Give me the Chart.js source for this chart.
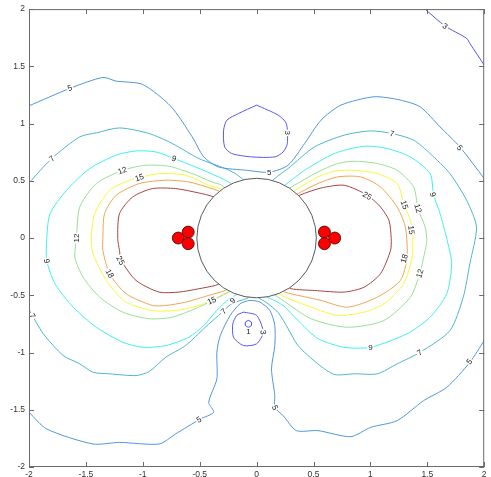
<!DOCTYPE html>
<html>
<head>
<meta charset="utf-8">
<title>Contour plot</title>
<script src="https://cdn.jsdelivr.net/npm/chart.js@4/dist/chart.umd.min.js"></script>
<style>
  html, body { margin: 0; padding: 0; background: #fff; }
  canvas { display: block; }
</style>
</head>
<body>
<canvas id="chart" width="491" height="477"></canvas>
<script>
'use strict';

// tick labels on both axes
const xTicks = [-2, -1.5, -1, -0.5, 0, 0.5, 1, 1.5, 2];
const yTicks = [-2, -1.5, -1, -0.5, 0, 0.5, 1, 1.5, 2];

// contour lines, [x, y]
const c1 = [[-0.072,-0.719],[-0.046,-0.734],[-0.046,-0.764],[-0.072,-0.779],[-0.098,-0.764],[-0.098,-0.734],[-0.072,-0.719]];

const c3Top = [[0,1.161],[0.189,1.074],[0.261,1.001],[0.270,0.826],[0.233,0.752],[0.160,0.709],[-0.044,0.709],[-0.218,0.738],[-0.281,0.796],[-0.290,0.942],[-0.261,1.030],[-0.159,1.088],[0,1.161]];
const c3Corner = [[1.48,2.0],[1.656,1.852],[1.845,1.745],[1.874,1.700],[2.0,1.511]];
const c3Bottom = [[-0.116,-0.647],[0,-0.676],[0.058,-0.822],[0,-0.924],[-0.116,-0.939],[-0.203,-0.866],[-0.209,-0.749],[-0.174,-0.676],[-0.116,-0.647]];

const c5Top = [[-2.0,1.155],[-1.641,1.307],[-1.351,1.403],[-1.234,1.371],[-1.002,1.342],[-0.755,1.152],[-0.566,0.884],[-0.464,0.709],[-0.334,0.621],[-0.087,0.592],[0.111,0.575],[0.276,0.636],[0.422,0.826],[0.566,1.030],[0.741,1.161],[1.032,1.234],[1.264,1.205],[1.438,1.146],[1.612,0.971],[1.786,0.796],[2.0,0.520]];
const c5Bottom = [[-2.0,-1.522],[-1.844,-1.668],[-1.438,-1.799],[-1.205,-1.785],[-0.857,-1.799],[-0.711,-1.711],[-0.493,-1.580],[-0.377,-1.522],[-0.421,-1.435],[-0.349,-1.230],[-0.349,-0.997],[-0.319,-0.851],[-0.232,-0.676],[-0.145,-0.574],[-0.058,-0.545],[0.030,-0.560],[0.117,-0.633],[0.160,-0.764],[0.160,-0.939],[0.131,-1.143],[0.160,-1.376],[0.160,-1.479],[0.233,-1.551],[0.349,-1.682],[0.538,-1.682],[0.828,-1.735],[1.002,-1.654],[1.235,-1.595],[1.468,-1.420],[1.671,-1.304],[1.874,-1.085],[2.0,-0.895]];

const c7TopLeft = [[-2.0,0.481],[-1.800,0.695],[-1.554,0.884],[-1.408,0.919],[-1.205,0.962],[-0.944,0.913],[-0.741,0.826],[-0.508,0.695],[-0.275,0.607],[-0.177,0.557],[-0.090,0.487]];
const c7Right = [[0.119,0.487],[0.207,0.557],[0.276,0.607],[0.509,0.796],[0.770,0.899],[1.002,0.936],[1.191,0.913],[1.380,0.855],[1.525,0.738],[1.699,0.563],[1.845,0.330],[1.932,0.096],[1.874,-0.224],[1.816,-0.516],[1.699,-0.808],[1.438,-0.997],[1.235,-1.099],[1.061,-1.186],[0.858,-1.186],[0.683,-1.192],[0.538,-1.099],[0.363,-0.939],[0.276,-0.790],[0.189,-0.650],[0.085,-0.563],[-0.003,-0.510]];
const c7BottomLeft = [[-2.0,-0.626],[-1.874,-0.836],[-1.699,-1.026],[-1.554,-1.099],[-1.438,-1.172],[-1.292,-1.186],[-1.060,-1.201],[-0.944,-1.166],[-0.798,-1.041],[-0.624,-0.939],[-0.450,-0.779],[-0.334,-0.676],[-0.218,-0.574],[-0.087,-0.528],[-0.020,-0.493]];

const c9Left = [[-0.194,0.452],[-0.247,0.490],[-0.334,0.534],[-0.537,0.621],[-0.726,0.695],[-0.885,0.752],[-1.060,0.761],[-1.234,0.724],[-1.467,0.607],[-1.670,0.417],[-1.815,0.213],[-1.844,-0.005],[-1.844,-0.195],[-1.772,-0.399],[-1.612,-0.604],[-1.408,-0.779],[-1.176,-0.910],[-1.002,-0.954],[-0.798,-0.939],[-0.595,-0.866],[-0.464,-0.764],[-0.351,-0.633],[-0.247,-0.536],[-0.142,-0.475]];
const c9Right = [[0.198,0.434],[0.247,0.461],[0.422,0.592],[0.683,0.738],[0.945,0.802],[1.148,0.782],[1.351,0.709],[1.525,0.563],[1.555,0.380],[1.612,0.213],[1.671,-0.005],[1.714,-0.224],[1.671,-0.486],[1.525,-0.691],[1.322,-0.836],[1.002,-0.954],[0.770,-0.954],[0.538,-0.878],[0.363,-0.720],[0.233,-0.589],[0.119,-0.528],[0.032,-0.493]];

const c12Left = [[-0.255,0.417],[-0.305,0.461],[-0.392,0.490],[-0.566,0.563],[-0.770,0.627],[-0.973,0.636],[-1.176,0.592],[-1.408,0.476],[-1.554,0.271],[-1.583,-0.005],[-1.597,-0.166],[-1.525,-0.341],[-1.379,-0.516],[-1.176,-0.647],[-0.944,-0.705],[-0.741,-0.691],[-0.508,-0.604],[-0.334,-0.516],[-0.247,-0.472],[-0.194,-0.449]];
const c12Right = [[0.259,0.417],[0.305,0.446],[0.538,0.577],[0.712,0.651],[0.858,0.671],[1.061,0.651],[1.235,0.592],[1.380,0.446],[1.418,0.257],[1.481,0.096],[1.496,-0.020],[1.481,-0.108],[1.433,-0.311],[1.351,-0.516],[1.119,-0.720],[0.799,-0.779],[0.479,-0.705],[0.218,-0.536],[0.137,-0.484]];

const c15Left = [[-0.264,0.400],[-0.319,0.432],[-0.421,0.461],[-0.624,0.549],[-0.857,0.563],[-1.031,0.528],[-1.118,0.505],[-1.292,0.417],[-1.423,0.213],[-1.452,-0.005],[-1.438,-0.136],[-1.321,-0.370],[-1.147,-0.560],[-0.915,-0.633],[-0.711,-0.633],[-0.508,-0.589],[-0.392,-0.545],[-0.275,-0.486],[-0.212,-0.440]];
const c15Right = [[0.285,0.391],[0.335,0.417],[0.538,0.534],[0.683,0.584],[0.858,0.592],[1.061,0.563],[1.235,0.476],[1.293,0.301],[1.351,0.155],[1.372,0.038],[1.366,-0.166],[1.293,-0.399],[1.119,-0.574],[0.945,-0.647],[0.712,-0.676],[0.479,-0.604],[0.218,-0.501],[0.172,-0.458]];

const c18Left = [[-0.281,0.382],[-0.334,0.411],[-0.392,0.432],[-0.595,0.490],[-0.798,0.505],[-1.031,0.476],[-1.234,0.374],[-1.336,0.213],[-1.351,-0.005],[-1.351,-0.108],[-1.292,-0.311],[-1.147,-0.486],[-0.915,-0.589],[-0.798,-0.589],[-0.624,-0.560],[-0.421,-0.501],[-0.275,-0.458],[-0.229,-0.423]];
const c18Right = [[0.311,0.365],[0.363,0.388],[0.538,0.476],[0.712,0.534],[0.915,0.534],[1.089,0.446],[1.235,0.271],[1.307,0.096],[1.322,-0.166],[1.264,-0.370],[1.061,-0.516],[0.799,-0.604],[0.566,-0.545],[0.247,-0.472],[0.207,-0.440]];

const c25Left = [[-0.334,0.339],[-0.392,0.365],[-0.508,0.394],[-0.711,0.432],[-0.915,0.432],[-1.089,0.359],[-1.205,0.213],[-1.220,-0.005],[-1.205,-0.108],[-1.190,-0.195],[-1.060,-0.370],[-0.857,-0.472],[-0.682,-0.472],[-0.508,-0.443],[-0.363,-0.414],[-0.299,-0.388]];
const c25Right = [[0.329,0.339],[0.378,0.374],[0.566,0.437],[0.770,0.461],[0.973,0.374],[1.089,0.271],[1.163,0.155],[1.183,-0.005],[1.177,-0.108],[1.089,-0.311],[0.945,-0.429],[0.770,-0.472],[0.509,-0.458],[0.305,-0.443],[0.259,-0.405]];

// inline labels on the contours: [x, y, text, angle]
const contourLabels = [
  [-1.641, 1.311, '5', 21], [-1.80, 0.695, '7', 42], [-0.726, 0.695, '9', -20],
  [-1.18, 0.59, '12', 20], [-1.03, 0.53, '15', 19], [0.27, 0.92, '3', -90],
  [0.11, 0.575, '5', 0], [1.19, 0.913, '7', -12], [1.786, 0.79, '5', -49],
  [1.656, 1.852, '3', -35], [0.973, 0.37, '25', -31], [1.30, 0.29, '15', -70],
  [1.42, 0.26, '12', -74], [1.55, 0.38, '9', -76], [1.36, 0.07, '15', -85],
  [1.296, -0.178, '18', 74], [1.434, -0.31, '12', 72], [1.0, -0.956, '9', 0],
  [1.434, -1.0, '7', 32], [1.87, -1.08, '5', 51], [0.163, -1.48, '5', -68],
  [-0.508, -1.586, '5', 29], [-1.583, 0.0, '12', 90], [-1.844, -0.20, '9', -80],
  [-1.97, -0.68, '7', -60], [-1.196, -0.195, '25', -61], [-1.29, -0.31, '18', -61],
  [-0.394, -0.545, '15', 24], [-0.21, -0.545, '9', 42], [-0.29, -0.64, '7', 42],
  [-0.072, -0.815, '1', 0], [0.058, -0.823, '3', -80]
];

// the three red spheres on each side and the central disc
const spheres = [[-0.688,0],[-0.601,0.052],[-0.601,-0.049],[0.596,0.052],[0.596,-0.049],[0.686,0]];
const discRadius = 0.525;

const levelColors = {
  1: '#3a3aff', 3: '#5656f5', 5: '#5196dc', 7: '#4db5cf', 9: '#3cf0f0',
  12: '#97df97', 15: '#f7f73a', 18: '#f0a452', 25: '#a64444'
};

const contours = [
  [c1, 1], [c3Top, 3], [c3Corner, 3], [c3Bottom, 3],
  [c5Top, 5], [c5Bottom, 5],
  [c7TopLeft, 7], [c7Right, 7], [c7BottomLeft, 7],
  [c9Left, 9], [c9Right, 9], [c12Left, 12], [c12Right, 12],
  [c15Left, 15], [c15Right, 15], [c18Left, 18], [c18Right, 18],
  [c25Left, 25], [c25Right, 25]
];

const axisColor = '#6b6b6b';
const font = '"Liberation Sans", Arial, sans-serif';

function toPoints(arr) {
  return arr.map(function(p) { return {x: p[0], y: p[1]}; });
}

// spheres first: dataset 0 is drawn last, on top
let datasets = [{
  data: toPoints(spheres),
  pointRadius: 6,
  pointHoverRadius: 6,
  backgroundColor: '#ff0000',
  borderColor: '#3a0000',
  borderWidth: 0.8,
  showLine: false
}];

contours.forEach(function(c) {
  datasets.push({
    data: toPoints(c[0]),
    borderColor: levelColors[c[1]],
    borderWidth: 1,
    pointRadius: 0,
    showLine: true,
    fill: false,
    tension: 0.25
  });
});

// white disc with grey rim, drawn just before the spheres
const discPlugin = {
  id: 'disc',
  beforeDatasetDraw(chart, args) {
    if (args.index !== 0) return;
    const x = chart.scales.x, y = chart.scales.y, ctx = chart.ctx;
    const cx = x.getPixelForValue(0), cy = y.getPixelForValue(0);
    const r = x.getPixelForValue(discRadius) - cx;
    ctx.save();
    ctx.beginPath();
    ctx.arc(cx, cy, r, 0, Math.PI * 2);
    ctx.fillStyle = '#ffffff';
    ctx.fill();
    ctx.strokeStyle = '#5a5a5a';
    ctx.lineWidth = 1;
    ctx.stroke();
    ctx.restore();
  }
};

const labelPlugin = {
  id: 'contourLabels',
  afterDatasetsDraw(chart) {
    const x = chart.scales.x, y = chart.scales.y, ctx = chart.ctx;
    ctx.save();
    ctx.font = '8px ' + font;
    ctx.textAlign = 'center';
    ctx.textBaseline = 'middle';
    contourLabels.forEach(function(l) {
      const px = x.getPixelForValue(l[0]), py = y.getPixelForValue(l[1]);
      const w = ctx.measureText(l[2]).width + 2;
      ctx.save();
      ctx.translate(px, py);
      ctx.rotate(-l[3] * Math.PI / 180);
      ctx.fillStyle = '#ffffff';
      ctx.fillRect(-w / 2, -3.5, w, 7);
      ctx.fillStyle = '#1a1a1a';
      ctx.fillText(l[2], 0, 0.5);
      ctx.restore();
    });
    ctx.restore();
  }
};

// matlab style box with inward ticks on all four sides
const boxPlugin = {
  id: 'box',
  afterDraw(chart) {
    const a = chart.chartArea, ctx = chart.ctx;
    const x = chart.scales.x, y = chart.scales.y;
    const tl = 5;
    ctx.save();
    ctx.strokeStyle = axisColor;
    ctx.lineWidth = 1;
    ctx.strokeRect(a.left + 0.5, a.top + 0.5, a.right - a.left - 1, a.bottom - a.top - 1);
    ctx.beginPath();
    xTicks.forEach(function(v) {
      const px = Math.round(x.getPixelForValue(v)) + 0.5;
      ctx.moveTo(px, a.bottom); ctx.lineTo(px, a.bottom - tl);
      ctx.moveTo(px, a.top); ctx.lineTo(px, a.top + tl);
    });
    yTicks.forEach(function(v) {
      const py = Math.round(y.getPixelForValue(v)) + 0.5;
      ctx.moveTo(a.left, py); ctx.lineTo(a.left + tl, py);
      ctx.moveTo(a.right, py); ctx.lineTo(a.right - tl, py);
    });
    ctx.stroke();
    ctx.restore();
  }
};

let ctx = document.getElementById('chart');

new Chart(ctx, {
  type: 'scatter',
  data: { datasets: datasets },
  options: {
    responsive: false,
    animation: false,
    devicePixelRatio: 1,
    layout: { padding: { top: 9, right: 3, left: 0, bottom: 0 } },
    scales: {
      x: {
        type: 'linear', min: -2, max: 2,
        afterBuildTicks: function(s) { s.ticks = xTicks.map(function(v) { return {value: v}; }); },
        afterFit: function(s) { s.height = 10; },
        ticks: { color: '#333', padding: 3, maxRotation: 0, autoSkip: false,
                 font: { family: font, size: 8.5 },
                 callback: function(v) { return String(v); } },
        grid: { drawOnChartArea: false, drawTicks: false },
        border: { display: false }
      },
      y: {
        type: 'linear', min: -2, max: 2,
        afterBuildTicks: function(s) { s.ticks = yTicks.map(function(v) { return {value: v}; }); },
        afterFit: function(s) { s.width = 29; },
        ticks: { color: '#333', padding: 4, autoSkip: false,
                 font: { family: font, size: 8.5 },
                 callback: function(v) { return String(v); } },
        grid: { drawOnChartArea: false, drawTicks: false },
        border: { display: false }
      }
    },
    plugins: { legend: { display: false }, tooltip: { enabled: false } }
  },
  plugins: [discPlugin, labelPlugin, boxPlugin]
});
</script>
</body>
</html>
